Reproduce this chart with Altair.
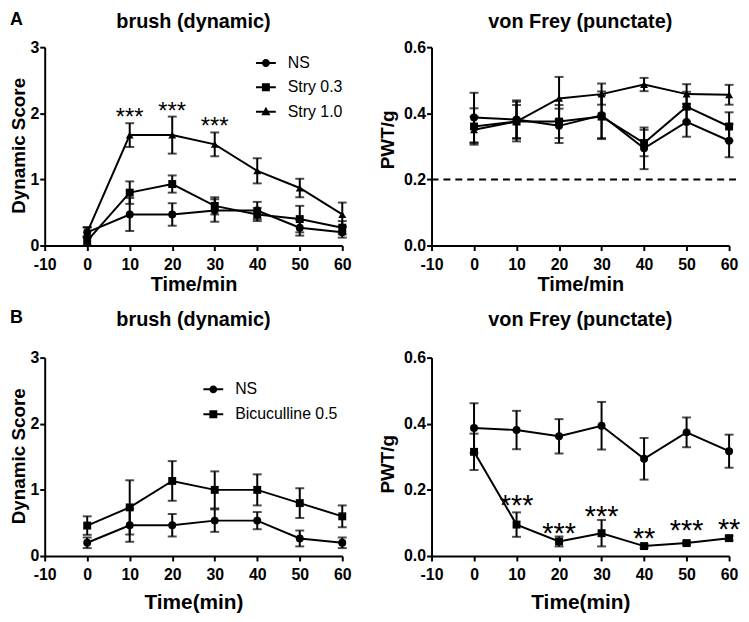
import altair as alt
import pandas as pd

FONT = "Liberation Sans"

# ---------------- data ----------------
times = [0, 10, 20, 30, 40, 50, 60]
x_ticks = [-10, 0, 10, 20, 30, 40, 50, 60]

# Panel A, brush (dynamic)
a_br_series = ["NS", "Stry 0.3", "Stry 1.0"]
a_br_ns = [0.20, 0.47, 0.47, 0.53, 0.53, 0.27, 0.20]
a_br_ns_err = [0.08, 0.25, 0.17, 0.17, 0.13, 0.12, 0.08]
a_br_s03 = [0.07, 0.80, 0.93, 0.60, 0.47, 0.40, 0.27]
a_br_s03_err = [0.07, 0.17, 0.13, 0.13, 0.10, 0.20, 0.10]
a_br_s10 = [0.20, 1.67, 1.67, 1.53, 1.13, 0.87, 0.47]
a_br_s10_err = [0.07, 0.18, 0.28, 0.18, 0.19, 0.14, 0.18]
a_br_stars = ["***", "***", "***"]
a_br_star_t = [10, 20, 30]
a_br_star_y = [2.03, 2.13, 1.90]

# Panel A, von Frey (punctate)
a_vf_ns = [0.387, 0.381, 0.362, 0.394, 0.294, 0.374, 0.317]
a_vf_ns_err = [0.075, 0.058, 0.052, 0.072, 0.063, 0.045, 0.050]
a_vf_s03 = [0.360, 0.375, 0.375, 0.390, 0.310, 0.420, 0.360]
a_vf_s03_err = [0.055, 0.060, 0.050, 0.065, 0.040, 0.045, 0.043]
a_vf_s10 = [0.350, 0.375, 0.445, 0.458, 0.487, 0.458, 0.456]
a_vf_s10_err = [0.040, 0.050, 0.065, 0.032, 0.020, 0.030, 0.030]
a_vf_threshold = [0.2]
a_vf_threshold_span = [-10, 62.3]

# Panel B, brush (dynamic)
b_br_series = ["NS", "Bicuculline 0.5"]
b_br_ns = [0.20, 0.465, 0.465, 0.535, 0.535, 0.265, 0.20]
b_br_ns_err = [0.08, 0.25, 0.17, 0.17, 0.13, 0.12, 0.08]
b_br_bic = [0.46, 0.735, 1.135, 1.00, 1.00, 0.80, 0.60]
b_br_bic_err = [0.14, 0.41, 0.30, 0.28, 0.235, 0.225, 0.165]

# Panel B, von Frey (punctate)
b_vf_ns = [0.387, 0.381, 0.362, 0.394, 0.294, 0.374, 0.317]
b_vf_ns_err = [0.075, 0.058, 0.052, 0.072, 0.063, 0.045, 0.050]
b_vf_bic = [0.315, 0.095, 0.044, 0.069, 0.030, 0.039, 0.054]
b_vf_bic_err = [0.055, 0.037, 0.015, 0.040, 0.005, 0.005, 0.007]
b_vf_stars = ["***", "***", "***", "**", "***", "**"]
b_vf_star_t = [10, 20, 30, 40, 50, 60]
b_vf_star_y = [0.176, 0.091, 0.141, 0.076, 0.098, 0.101]

# marker shapes, and legend glyphs (filled line bar + marker) in unit coordinates
SHAPES = ["circle", "square", "triangle-up"]
BAR = "M-1,-0.1L1,-0.1L1,0.1L-1,0.1Z"
LEG_PATHS = [
    BAR + "M0.4,0A0.4,0.4,0,1,1,-0.4,0A0.4,0.4,0,1,1,0.4,0Z",
    BAR + "M-0.4,-0.4L0.4,-0.4L0.4,0.4L-0.4,0.4Z",
    BAR + "M0,-0.48L0.46,0.36L-0.46,0.36Z",
]


def frame(names, means, errs):
    rows = []
    for name, m, e in zip(names, means, errs):
        for t, v, d in zip(times, m, e):
            rows.append({"series": name, "t": t, "mean": v, "lo": v - d, "hi": v + d})
    return pd.DataFrame(rows)


def panel(df, names, y_domain, y_values, y_format, y_title, x_title, x_title_size,
          x_title_y, y_title_x, y_title_y, legend_xy=None, legend_gap=6.5, stars=None,
          star_size=24, threshold=None):
    xaxis = alt.Axis(values=x_ticks, title=x_title, labelExpr="'' + datum.value",
                     labelFlush=False, labelOverlap=False, labelPadding=6,
                     titleY=x_title_y, titleBaseline="alphabetic",
                     titleFontSize=x_title_size)
    yaxis = alt.Axis(values=y_values, format=y_format, title=y_title,
                     labelFlush=False, labelOverlap=False, labelPadding=1,
                     titleX=y_title_x, titleY=y_title_y, titleBaseline="alphabetic",
                     titleFontSize=19)
    xs = alt.Scale(domain=[-10, 60], nice=False, zero=False)
    ys = alt.Scale(domain=y_domain, nice=False, zero=False)

    def X(f):
        return alt.X(f, scale=xs, axis=xaxis)

    def Y(f):
        return alt.Y(f, scale=ys, axis=yaxis)

    base = alt.Chart(df)
    layers = []
    if threshold is not None:
        tdf = pd.DataFrame({"y": threshold, "t0": [a_vf_threshold_span[0]],
                            "t1": [a_vf_threshold_span[1]]})
        layers.append(
            alt.Chart(tdf).mark_rule(color="black", strokeWidth=2, strokeDash=[7, 5], clip=False)
            .encode(x=X("t0:Q"), x2="t1:Q", y=Y("y:Q"))
        )
    layers.append(base.mark_line(color="black", strokeWidth=2)
                  .encode(x=X("t:Q"), y=Y("mean:Q"), detail="series:N"))
    layers.append(base.mark_errorbar(ticks=True, size=9, thickness=2, color="black",
                                     orient="vertical")
                  .encode(x=X("t:Q"), y=Y("lo:Q"), y2="hi:Q"))
    layers.append(base.mark_point(filled=True, size=64, opacity=1, color="black")
                  .encode(x=X("t:Q"), y=Y("mean:Q"),
                          shape=alt.Shape("series:N",
                                          scale=alt.Scale(domain=names, range=SHAPES[:len(names)]),
                                          legend=None)))
    if stars is not None:
        sdf = pd.DataFrame({"t": stars[0], "y": stars[1], "label": stars[2]})
        layers.append(alt.Chart(sdf).mark_text(font=FONT, fontSize=star_size, color="black",
                                              baseline="alphabetic", dy=round(0.585 * star_size))
                      .encode(x=X("t:Q"), y=Y("y:Q"), text="label:N"))
    if legend_xy is not None:
        layers.append(
            base.mark_point(filled=True, color="black", opacity=1, size=400)
            .encode(x=X("t:Q"), y=Y("mean:Q"),
                    shape=alt.Shape("series:N",
                                    scale=alt.Scale(domain=names, range=LEG_PATHS[:len(names)]),
                                    legend=alt.Legend(title=None, orient="none",
                                                      legendX=legend_xy[0], legendY=legend_xy[1],
                                                      labelFont=FONT, labelFontSize=16,
                                                      labelColor="black", labelOffset=12,
                                                      symbolSize=400, symbolStrokeWidth=0,
                                                      symbolFillColor="black",
                                                      rowPadding=legend_gap, padding=0)))
            .transform_filter("false")
        )
    return alt.layer(*layers).resolve_scale(shape="independent")


def ttl(text, offset):
    return alt.TitleParams(text, font=FONT, fontSize=20, fontWeight="bold", color="black",
                           anchor="middle", frame="group", offset=offset)


W, H = 300, 200

a_br = panel(frame(a_br_series, [a_br_ns, a_br_s03, a_br_s10], [a_br_ns_err, a_br_s03_err, a_br_s10_err]),
             a_br_series, [0, 3], [0, 1, 2, 3], "d", "Dynamic Score", "Time/min", 20, 45.5, -20, 99,
             legend_xy=(213, 6), legend_gap=6.5,
             stars=(a_br_star_t, a_br_star_y, a_br_stars), star_size=24
             ).properties(width=W, height=H, title=ttl("brush (dynamic)", 7))

a_vf = panel(frame(a_br_series, [a_vf_ns, a_vf_s03, a_vf_s10], [a_vf_ns_err, a_vf_s03_err, a_vf_s10_err]),
             a_br_series, [0, 0.6], [0, 0.2, 0.4, 0.6], ".1f", "PWT/g", "Time/min", 20, 45.5, -38, 93,
             threshold=a_vf_threshold
             ).properties(width=W, height=H, title=ttl("von Frey (punctate)", 7))

b_br = panel(frame(b_br_series, [b_br_ns, b_br_bic], [b_br_ns_err, b_br_bic_err]),
             b_br_series, [0, 3], [0, 1, 2, 3], "d", "Dynamic Score", "Time(min)", 21, 53, -20, 99,
             legend_xy=(160, 22), legend_gap=7
             ).properties(width=W, height=H, title=ttl("brush (dynamic)", 20))

b_vf = panel(frame(b_br_series, [b_vf_ns, b_vf_bic], [b_vf_ns_err, b_vf_bic_err]),
             b_br_series, [0, 0.6], [0, 0.2, 0.4, 0.6], ".1f", "PWT/g", "Time(min)", 21, 53, -38, 107,
             stars=(b_vf_star_t, b_vf_star_y, b_vf_stars), star_size=29
             ).properties(width=W, height=H, title=ttl("von Frey (punctate)", 20))


def letter(text, offset):
    return alt.TitleParams(text, font=FONT, fontSize=18, fontWeight="bold", color="black",
                           anchor="start", frame="bounds", offset=offset)


row_a = alt.hconcat(a_br, a_vf, spacing=90, bounds="flush").properties(title=letter("A", -16.8))
row_b = alt.hconcat(b_br, b_vf, spacing=90, bounds="flush").properties(title=letter("B", -16.6))

chart = (
    alt.vconcat(row_a, row_b, spacing=313, bounds="flush")
    .properties(padding={"left": 2, "top": 0, "right": 0, "bottom": 0}, background="white")
    .configure_view(stroke=None)
    .configure_axis(
        grid=False, domainColor="black", domainWidth=2, tickColor="black", tickWidth=2,
        tickSize=5, labelFont=FONT, labelFontSize=16, labelFontWeight="bold",
        labelColor="black", titleFont=FONT, titleFontWeight="bold", titleColor="black",
    )
)

chart.save("out.html", embed_options={"renderer": "svg", "actions": False})
